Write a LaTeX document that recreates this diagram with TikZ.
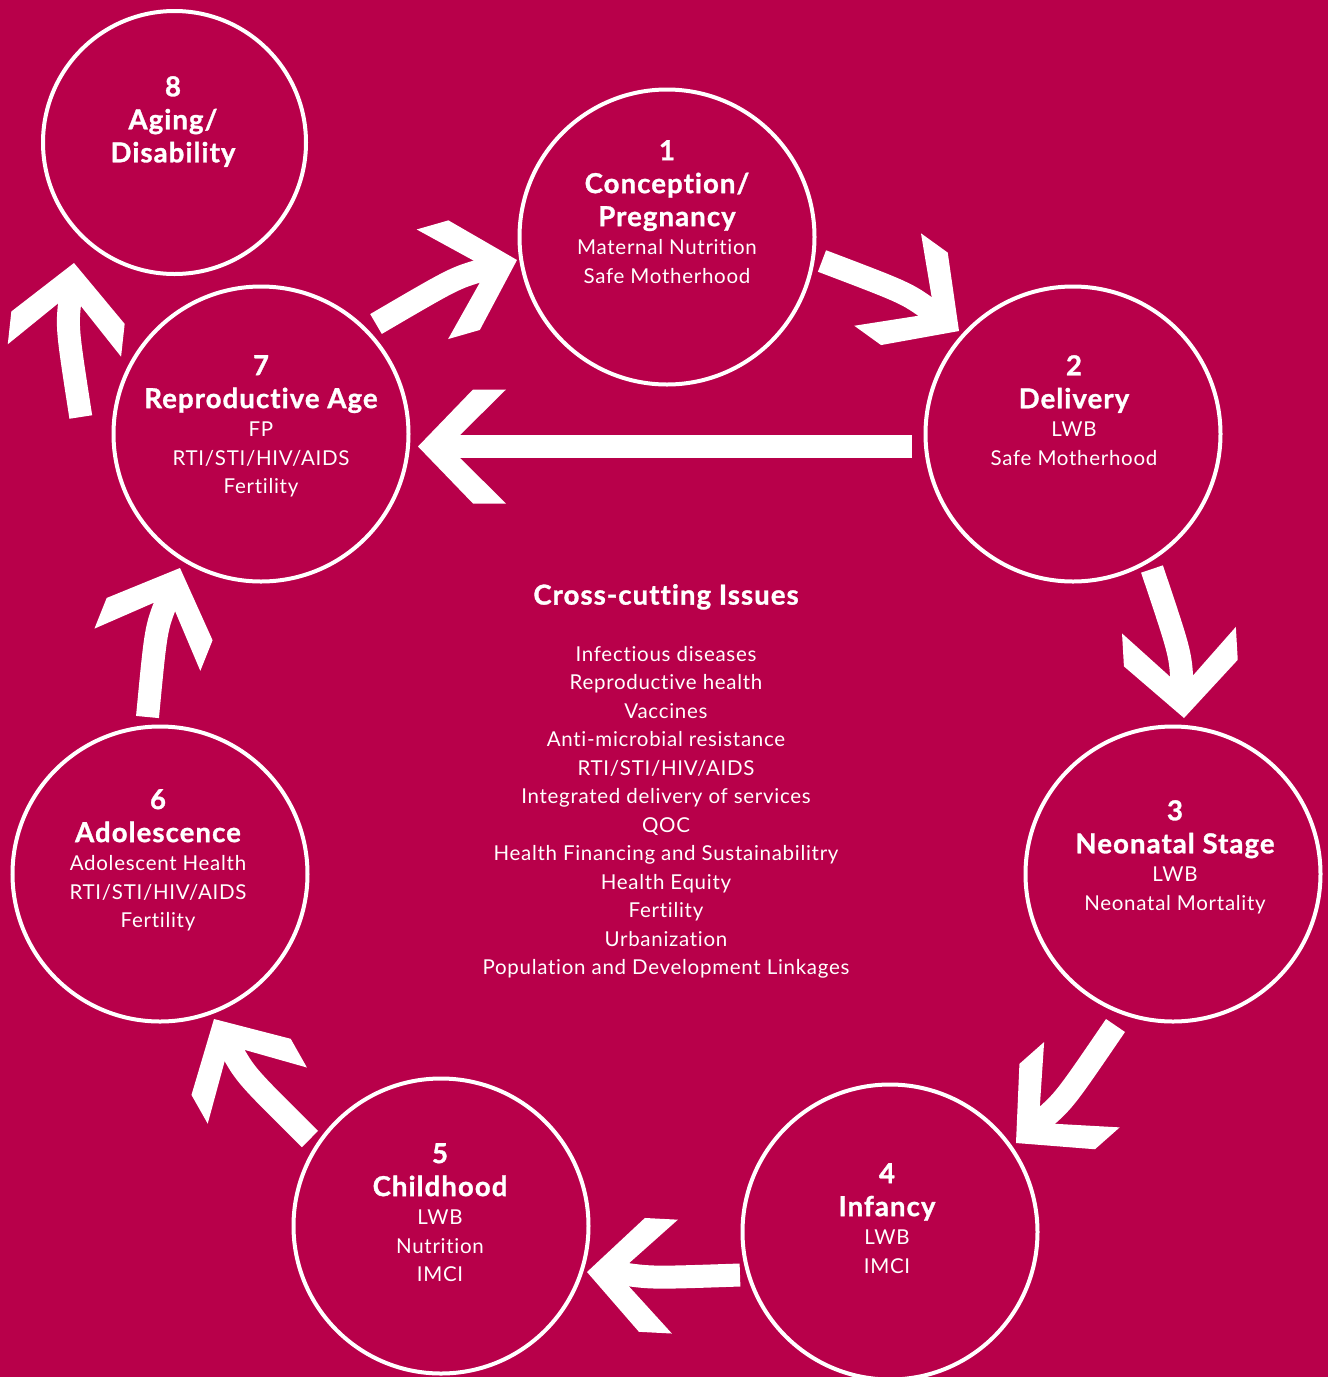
\documentclass[tikz,border=0pt]{standalone}
\usepackage{fontspec}
\setmainfont{Lato}[Ligatures=NoCommon, LetterSpace=3.5, BoldFeatures={FakeBold=1.2, LetterSpace=4}]
\definecolor{bgred}{RGB}{184,0,74}
\newcommand\cyhd[1]{{\bfseries\fontsize{27.5}{27.5}\selectfont #1}}
\begin{document}
\begin{tikzpicture}[x=1pt,y=-1pt,
  ring/.style={circle, draw=white, line width=4pt, inner sep=0pt, minimum size=295pt},
  txt/.style={text=white, align=center, inner sep=0pt, anchor=north, font=\fontsize{20.5}{28.5}\selectfont},
  shaft/.style={draw=white, line width=23pt},
  chev/.pic={\fill[white] (0,0) -- (-55,57) -- (-88,57) -- (-42,11.5) -- (-42,-11.5) -- (-88,-57) -- (-55,-57) -- cycle;}]
\fill[bgred] (0,0) rectangle (1328,1377);
\useasboundingbox (0,0) rectangle (1328,1377);

% circles
\node[ring] (c1) at (667,237) {};
\node[ring] (c2) at (1073,434) {};
\node[ring] (c3) at (1173,874) {};
\node[ring] (c4) at (890,1232) {};
\node[ring] (c5) at (441,1226) {};
\node[ring] (c6) at (160,874) {};
\node[ring] (c7) at (261,434) {};
\node[ring, minimum size=263pt] (c8) at (174.5,142.5) {};

% texts
\node[txt] (t1) at (667,140) {\cyhd{1}\\[4.5pt]\cyhd{Conception/}\\[4.5pt]\cyhd{Pregnancy}\\Maternal Nutrition\\Safe Motherhood};
\node[txt] (t2) at (1074,355) {\cyhd{2}\\[4.5pt]\cyhd{Delivery}\\LWB\\Safe Motherhood};
\node[txt] (t3) at (1175,800) {\cyhd{3}\\[4.5pt]\cyhd{Neonatal Stage}\\LWB\\Neonatal Mortality};
\node[txt] (t4) at (887,1163) {\cyhd{4}\\[4.5pt]\cyhd{Infancy}\\LWB\\IMCI};
\node[txt] (t5) at (440,1143) {\cyhd{5}\\[4.5pt]\cyhd{Childhood}\\LWB\\Nutrition\\IMCI};
\node[txt] (t6) at (158,789) {\cyhd{6}\\[4.5pt]\cyhd{Adolescence}\\Adolescent Health\\RTI/STI/HIV/AIDS\\Fertility};
\node[txt] (t7) at (261,355) {\cyhd{7}\\[4.5pt]\cyhd{Reproductive Age}\\FP\\RTI/STI/HIV/AIDS\\Fertility};
\node[txt] (t8) at (173,76) {\cyhd{8}\\[4.5pt]\cyhd{Aging/}\\[4.5pt]\cyhd{Disability}};

\node[txt] (ctr) at (666,584) {\cyhd{Cross-cutting Issues}\\[28pt]
Infectious diseases\\Reproductive health\\Vaccines\\Anti-microbial resistance\\
RTI/STI/HIV/AIDS\\Integrated delivery of services\\QOC\\
Health Financing and Sustainabilitry\\Health Equity\\Fertility\\Urbanization\\
Population and Development Linkages};

% arrow coordinates
\coordinate (a1s) at (376,324);   \coordinate (a1c) at (454.6,278.0); \coordinate (a1b) at (483.4,269.7); \coordinate (a1t) at (517,260);
\coordinate (a2s) at (822,261);   \coordinate (a2c) at (906.3,293.0); \coordinate (a2b) at (930.6,310.5); \coordinate (a2t) at (959,331);
\coordinate (a3s) at (1152,569);  \coordinate (a3c) at (1180.3,653.2); \coordinate (a3b) at (1182.0,683.1); \coordinate (a3t) at (1184,718);
\coordinate (a4s) at (1115.5,1025.5); \coordinate (a4c) at (1064.7,1099.9); \coordinate (a4b) at (1042.2,1119.8); \coordinate (a4t) at (1016,1143);
\coordinate (a5s) at (740,1275);  \coordinate (a5c) at (652,1278);   \coordinate (a5b) at (622.0,1273.8); \coordinate (a5t) at (587,1272);
\coordinate (a6s) at (310,1139);  \coordinate (a6c) at (246.0,1075.6); \coordinate (a6b) at (231.2,1049.5); \coordinate (a6t) at (214,1019);
\coordinate (a7s) at (147.5,717); \coordinate (a7c) at (155.9,628.4); \coordinate (a7b) at (167.0,600.5); \coordinate (a7t) at (180,568);
\coordinate (a8s) at (80.8,417);  \coordinate (a8c) at (66.9,327.6);  \coordinate (a8b) at (70.2,297.8); \coordinate (a8t) at (74,263);
\coordinate (a9s) at (912,446.5); \coordinate (a9b) at (453,446.5); \coordinate (a9t) at (418,446.5);

% arrows
\draw[shaft] (a1s) .. controls (a1c) .. (a1b); \pic[rotate=16] at (a1t) {chev};
\draw[shaft] (a2s) .. controls (a2c) .. (a2b); \pic[rotate=-35.8] at (a2t) {chev};
\draw[shaft] (a3s) .. controls (a3c) .. (a3b); \pic[rotate=-86.7] at (a3t) {chev};
\draw[shaft] (a4s) .. controls (a4c) .. (a4b); \pic[rotate=-138.5] at (a4t) {chev};
\draw[shaft] (a5s) .. controls (a5c) .. (a5b); \pic[rotate=-183] at (a5t) {chev};
\draw[shaft] (a6s) .. controls (a6c) .. (a6b); \pic[rotate=-240.5] at (a6t) {chev};
\draw[shaft] (a7s) .. controls (a7c) .. (a7b); \pic[rotate=68.25] at (a7t) {chev};
\draw[shaft] (a8s) .. controls (a8c) .. (a8b); \pic[rotate=83.75] at (a8t) {chev};
\draw[shaft] (a9s) -- (a9b); \pic[rotate=180] at (a9t) {chev};
\end{tikzpicture}
\end{document}
